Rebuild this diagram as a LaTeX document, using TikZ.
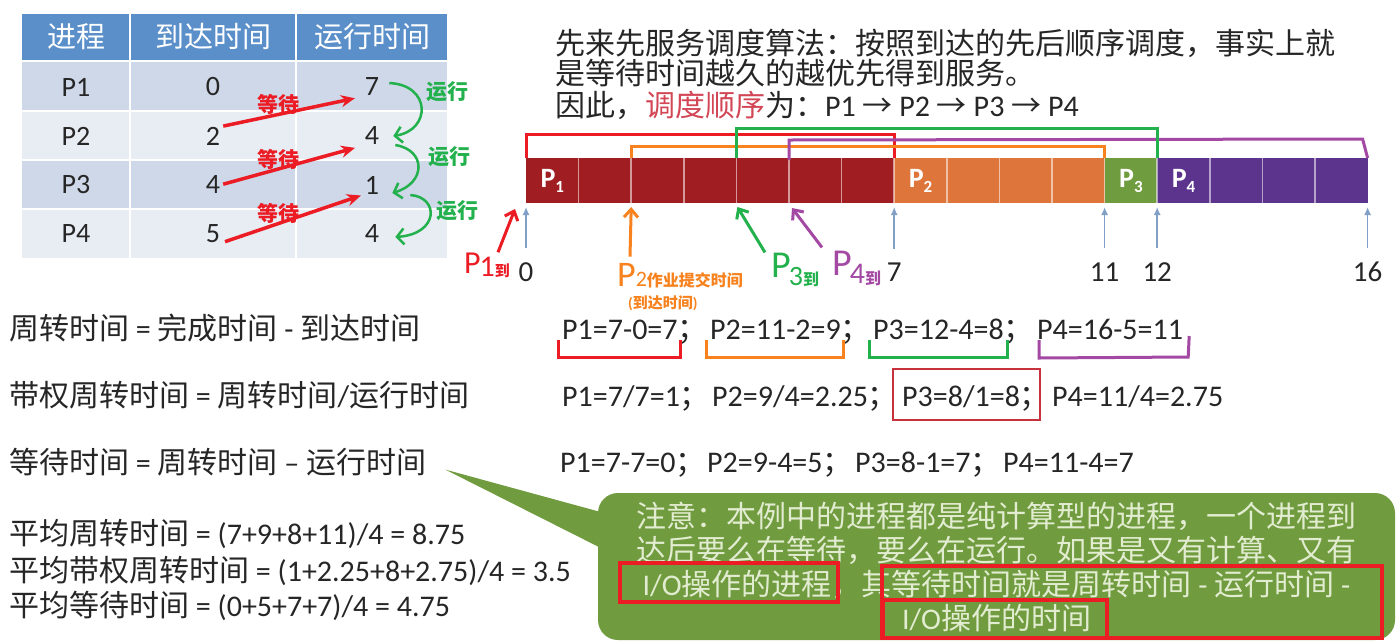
\documentclass[tikz,border=0pt]{standalone}
\usepackage{fontspec}
\setmainfont{Carlito}
\newfontfamily\cjkfont{Noto Sans CJK SC}
\usetikzlibrary{arrows.meta,calc}

\XeTeXinterchartokenstate=1
\newXeTeXintercharclass\cjkclass
\newcount\cjkcode
\newcommand\cjkrange[2]{\cjkcode=#1\relax
  \loop\XeTeXcharclass\cjkcode=\cjkclass\relax
  \ifnum\cjkcode<#2\relax\advance\cjkcode by 1\relax\repeat}
\cjkrange{"3000}{"303F}
\cjkrange{"4E00}{"9FFF}
\cjkrange{"FF00}{"FFEF}
\XeTeXcharclass"2192=\cjkclass
\XeTeXinterchartoks 0 \cjkclass={\cjkfont}
\XeTeXinterchartoks 4095 \cjkclass={\cjkfont}
\XeTeXinterchartoks \cjkclass 0={\rmfamily}
\XeTeXinterchartoks \cjkclass 4095={\rmfamily}

\definecolor{ink}{RGB}{38,38,38}
\definecolor{hdr}{RGB}{91,143,201}
\definecolor{rowA}{RGB}{207,216,232}
\definecolor{rowB}{RGB}{232,236,243}
\definecolor{hred}{RGB}{236,28,36}
\definecolor{horange}{RGB}{247,130,30}
\definecolor{hgreen}{RGB}{34,177,76}
\definecolor{hpurple}{RGB}{163,73,164}
\definecolor{pone}{RGB}{160,30,34}
\definecolor{ptwo}{RGB}{222,118,60}
\definecolor{pthree}{RGB}{112,156,64}
\definecolor{pfour}{RGB}{92,52,142}
\definecolor{tickblue}{RGB}{128,160,200}
\definecolor{notegreen}{RGB}{112,155,62}
\definecolor{notetext}{RGB}{226,236,208}
\definecolor{sred}{RGB}{210,70,85}
\definecolor{boxred}{RGB}{200,50,60}

\begin{document}
\begin{tikzpicture}[x=1pt,y=-1pt,
  txt/.style={inner sep=0pt,text=ink,font=\fontsize{30}{34}\selectfont},
  cell/.style={inner sep=0pt,text=ink,font=\fontsize{28}{32}\selectfont},
  head/.style={inner sep=0pt,text=white,font=\fontsize{29}{32}\selectfont},
  wlabel/.style={inner sep=0pt,text=hred,font=\fontsize{21}{21}\selectfont\bfseries},
  rlabel/.style={inner sep=0pt,text=hgreen,font=\fontsize{21}{21}\selectfont\bfseries},
  waitarr/.style={draw=hred,line width=3.5pt,-{Stealth[length=14pt,width=12pt]}},
  runarr/.style={draw=hgreen,line width=2.5pt,-{Straight Barb[length=7pt,width=16pt]}},
  hand/.style={line width=3pt,-{Straight Barb[length=8pt,width=14pt]}},
  tickarr/.style={draw=tickblue,line width=1.5pt,-{Latex[length=8pt,width=7pt]},shorten <=14pt,shorten >=4pt},
  bracket/.style={line width=3pt},
  plabel/.style={inner sep=0pt,text=white,font=\fontsize{28}{28}\selectfont\bfseries},
  ticknum/.style={inner sep=0pt,text=ink,font=\fontsize{29}{29}\selectfont},
  arrlbl/.style={inner sep=0pt,anchor=base west},
  notebox/.style={fill=notegreen,rounded corners=20pt,minimum width=797pt,minimum height=147pt,
    text=notetext,align=center,inner sep=0pt,font=\fontsize{30}{34}\selectfont},
  notemark/.style={draw=hred,line width=4pt}]
  \fill[white] (0,0) rectangle (1398,641);
  \useasboundingbox (0,0) rectangle (1398,641);

  \fill[hdr] (22,14) rectangle (447,60);
  \foreach \r/\c in {0/rowA,1/rowB,2/rowA,3/rowB} \fill[\c] (22,{62+49*\r}) rectangle (447,{111+49*\r});
  \foreach \x in {130,296} \draw[white,line width=2pt] (\x,14) -- (\x,260);
  \foreach \y in {111,160,209} \draw[white,line width=1.5pt] (22,\y) -- (447,\y);
  \node[head] (h1) at (76,37) {进程};
  \node[head] (h2) at (213,37) {到达时间};
  \node[head] (h3) at (372,37) {运行时间};
  \foreach \i/\ar/\ru in {1/0/7,2/2/4,3/4/1,4/5/4} {
    \node[cell] (pid\i) at (76,{38+49*\i}) {P\i};
    \node[cell] (arr\i) at (213,{38+49*\i}) {\ar};
    \node[cell] (run\i) at (372,{38+49*\i}) {\ru};
  }
  \draw[waitarr,shorten <=3pt,shorten >=10pt] (arr2.north east) -- (run1.south west) node[wlabel,pos=0.4,above=-2pt] (w1) {等待};
  \draw[waitarr,shorten <=3pt,shorten >=10pt] (arr3.east) -- (run2.south west) node[wlabel,pos=0.4,above=-2pt] (w2) {等待};
  \draw[waitarr,shorten <=5pt,shorten >=4pt] (arr4.south east) -- (run3.south west) node[wlabel,pos=0.4,above=-2pt] (w3) {等待};
  \draw[runarr] ([xshift=10pt,yshift=4pt]run1.east) .. controls ([xshift=52pt,yshift=2pt]run1.east) and ([xshift=52pt,yshift=6pt]run2.east) .. ([xshift=14pt]run2.east);
  \draw[runarr] ([xshift=16pt,yshift=-9pt]run2.east) .. controls ([xshift=47pt,yshift=-14pt]run2.east) and ([xshift=47pt,yshift=2pt]run3.east) .. ([xshift=13pt,yshift=-8pt]run3.east);
  \draw[runarr] ([xshift=31pt,yshift=-10pt]run3.east) .. controls ([xshift=60pt,yshift=-12pt]run3.east) and ([xshift=60pt]run4.east) .. ([xshift=16pt,yshift=-3pt]run4.east);
  \node[rlabel] (g1) at (447,92) {运行};
  \node[rlabel] (g2) at (449,157) {运行};
  \node[rlabel] (g3) at (457,211) {运行};

  \node[txt,anchor=base west] (intro1) at (555,54) {先来先服务调度算法：按照到达的先后顺序调度，事实上就};
  \node[txt,anchor=base west] (intro2) at (555,84) {是等待时间越久的越优先得到服务。};
  \node[txt,anchor=base west] (intro3) at (555,116) {因此，\textcolor{sred}{调度顺序}为：P1 → P2 → P3 → P4};

  \foreach \k in {0,...,16} {\coordinate (u\k) at ({526+52.6*\k},158); \coordinate (b\k) at ({526+52.6*\k},203);}
  \foreach \s/\e/\c/\n in {0/7/pone/1,7/11/ptwo/2,11/12/pthree/3,12/16/pfour/4} {
    \fill[\c] (u\s) rectangle (b\e);
    \node[plabel] (lab\n) at ($(u\s)!0.5!(b\s)+(26.3,0)$) {P\raisebox{-5pt}{\fontsize{17}{17}\selectfont\n}};
  }
  \foreach \k in {1,...,15} \draw[white,opacity=0.55,line width=1.5pt] (u\k) -- (b\k);
  \foreach \k in {0,7,11,12,16} {
    \node[ticknum] (t\k) at ({526+52.6*\k},272) {\k};
    \draw[tickarr] (t\k.north) -- (b\k);
  }
  \draw[bracket,hred] (u0) -- ++(0,-24) -| (u7);
  \draw[bracket,horange] (u2) -- ++(0,-12) -| (u11);
  \draw[bracket,hpurple] ([yshift=-2pt]u5) -- ++(0,-20) -- ([xshift=-5pt,yshift=19pt]u16) -- (u16);
  \draw[bracket,hgreen] (u4) -- ++(0,-30) -| (u12);

  \node[arrlbl,text=hred] (in1) at (464,276) {\raisebox{3pt}{\fontsize{32}{32}\selectfont P}\kern-1pt\fontsize{30}{30}\selectfont 1\fontsize{15}{15}\selectfont\bfseries 到};
  \node[arrlbl,text=horange] (in2) at (617,286) {\fontsize{36}{36}\selectfont P\fontsize{22}{22}\selectfont 2\fontsize{16}{16}\selectfont\bfseries 作业提交时间};
  \node[arrlbl,text=horange,font=\fontsize{15}{15}\selectfont\bfseries] (in2b) at (628,308) {(到达时间)};
  \node[arrlbl,text=hgreen] (in3) at (771,285) {\raisebox{8pt}{\fontsize{38}{38}\selectfont P}\kern-2pt\fontsize{28}{28}\selectfont 3\fontsize{16}{16}\selectfont\bfseries 到};
  \node[arrlbl,text=hpurple] (in4) at (832,284) {\raisebox{9pt}{\fontsize{38}{38}\selectfont P}\kern-2pt\raisebox{1pt}{\fontsize{30}{30}\selectfont 4}\fontsize{16}{16}\selectfont\bfseries 到};
  \draw[hand,hred] ([xshift=34pt]in1.north west) -- ([xshift=-11pt,yshift=-6pt]b0);
  \draw[hand,horange] ([xshift=13pt,yshift=6pt]in2.north west) -- ([yshift=-4pt]b2);
  \draw[hand,hgreen] ([xshift=-6pt]in3.north west) -- ([xshift=1pt,yshift=-4pt]b4);
  \draw[hand,hpurple] ([xshift=-10pt,yshift=3pt]in4.north west) -- ([xshift=3pt,yshift=-5pt]b5);

  \node[txt,anchor=base west] (f1) at (9,339) {周转时间 = 完成时间 - 到达时间};
  \node[txt,anchor=base west] (f2) at (9,406) {带权周转时间 = 周转时间/运行时间};
  \node[txt,anchor=base west] (f3) at (9,473) {等待时间 = 周转时间 – 运行时间};
  \node[txt,anchor=base west] (f4) at (9,544) {平均周转时间 = (7+9+8+11)/4 = 8.75};
  \node[txt,anchor=base west] (f5) at (9,581) {平均带权周转时间 = (1+2.25+8+2.75)/4 = 3.5};
  \node[txt,anchor=base west] (f6) at (9,616) {平均等待时间 = (0+5+7+7)/4 = 4.75};

  \node[txt,anchor=base west] (ta1) at (562,339) {P1=7-0=7；};
  \node[txt,anchor=base west] (ta2) at (710,339) {P2=11-2=9；};
  \node[txt,anchor=base west] (ta3) at (873,339) {P3=12-4=8；};
  \node[txt,anchor=base west] (ta4) at (1037,339) {P4=16-5=11};
  \node[txt,anchor=base west] (tw1) at (562,406) {P1=7/7=1；};
  \node[txt,anchor=base west] (tw2) at (712,406) {P2=9/4=2.25；};
  \node[txt,anchor=base west] (tw3) at (902,406) {P3=8/1=8；};
  \node[txt,anchor=base west] (tw4) at (1052,406) {P4=11/4=2.75};
  \node[txt,anchor=base west] (tq1) at (560,472) {P1=7-7=0；};
  \node[txt,anchor=base west] (tq2) at (707,472) {P2=9-4=5；};
  \node[txt,anchor=base west] (tq3) at (855,472) {P3=8-1=7；};
  \node[txt,anchor=base west] (tq4) at (1003,472) {P4=11-4=7};
  \foreach \n/\c in {1/hred,2/horange,3/hgreen}
    \draw[bracket,\c] ([xshift=-4pt,yshift=-1pt]ta\n.base west) -- ++(0,17) -| ([xshift=-27pt,yshift=-1pt]ta\n.base east);
  \draw[bracket,hpurple] ([xshift=2pt,yshift=-1pt]ta4.base west) -- ++(0,18) -- ([xshift=5pt,yshift=-18pt]ta4.base east) -- ([xshift=6pt,yshift=3pt]ta4.base east);
  \draw[boxred,line width=2pt] ([xshift=-9pt,yshift=37pt]tw3.base west) rectangle ([xshift=-10pt,yshift=-14pt]tw3.base east);

  \node[notebox] (note) at (996.5,566.5) {注意：本例中的进程都是纯计算型的进程，一个进程到\\达后要么在等待，要么在运行。如果是又有计算、又有\\I/O操作的进程，其等待时间就是周转时间 - 运行时间 -\\I/O操作的时间};
  \fill[notegreen] ([xshift=19pt,yshift=-8pt]f3.east) -- ([xshift=12pt,yshift=52pt]note.west) -- ([xshift=12pt,yshift=14pt]note.west) -- cycle;
  \draw[notemark] (620,563) rectangle (838,602);
  \draw[notemark] (882,566) rectangle (1382,638);
  \draw[notemark] (883,600) rectangle (1107,638);
\end{tikzpicture}
\end{document}
